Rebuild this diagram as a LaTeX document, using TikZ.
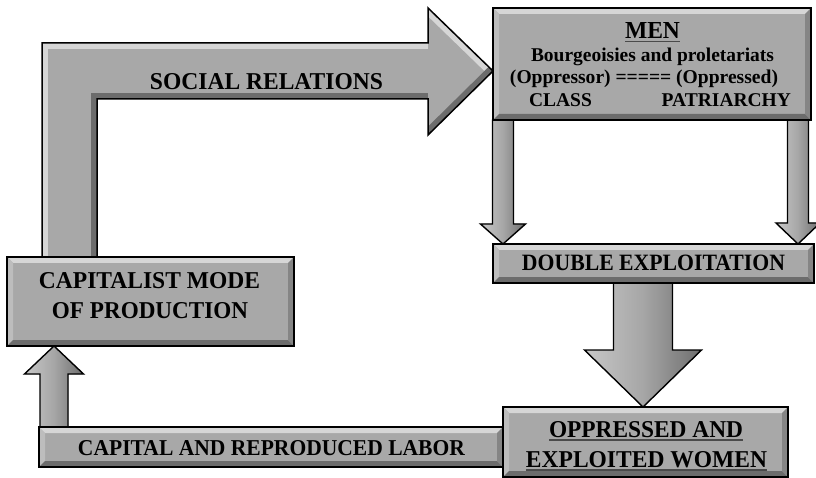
\documentclass[tikz,border=0pt]{standalone}
\usepackage{fontspec}
\setmainfont{Liberation Serif}
\usepackage{graphicx}
\usetikzlibrary{calc}
\pgfdeclarelayer{bg}
\pgfsetlayers{bg,main}
\definecolor{face}{HTML}{A8A8A8}
\definecolor{bvtop}{HTML}{D6D6D6}
\definecolor{bvleft}{HTML}{BDBDBD}
\definecolor{bvbot}{HTML}{6C6C6C}
\definecolor{bvright}{HTML}{858585}
\definecolor{arL}{HTML}{C8C8C8}
\definecolor{arM}{HTML}{A6A6A6}
\definecolor{arR}{HTML}{6E6E6E}
\definecolor{ulc}{HTML}{4A4A4A}
\newcommand{\myul}[1]{\setbox0=\hbox{#1}\leavevmode\rlap{\textcolor{ulc}{\rule[-3.5pt]{\wd0}{1.2pt}}}\box0}
\newcommand{\capsz}[3]{\resizebox{#1pt}{#2pt}{#3}}
\newcommand{\varrow}[5]{%
  \coordinate (vt) at (#1 -| #2);
  \filldraw[varr] ($(vt)+(-#3,0)$) -- ($(#2)+(-#3,{-1*(#5)})$) -- ($(#2)+(-#4,{-1*(#5)})$) -- (#2)
     -- ($(#2)+(#4,{-1*(#5)})$) -- ($(#2)+(#3,{-1*(#5)})$) -- ($(vt)+(#3,0)$) -- cycle;}
\tikzset{
  bbox/.style={rectangle, draw=black, line width=1.5pt, fill=face, inner sep=0pt, outer sep=0pt,
    path picture={
      \coordinate (pa) at (path picture bounding box.north west);
      \coordinate (pb) at (path picture bounding box.north east);
      \coordinate (pc) at (path picture bounding box.south east);
      \coordinate (pd) at (path picture bounding box.south west);
      \fill[bvtop] (pa) -- (pb) -- ([shift={(-6pt,-6pt)}]pb) -- ([shift={(6pt,-6pt)}]pa) -- cycle;
      \fill[bvleft] (pa) -- ([shift={(6pt,-6pt)}]pa) -- ([shift={(6pt,6pt)}]pd) -- (pd) -- cycle;
      \fill[bvbot] (pd) -- ([shift={(6pt,6pt)}]pd) -- ([shift={(-6pt,6pt)}]pc) -- (pc) -- cycle;
      \fill[bvright] (pb) -- (pc) -- ([shift={(-6pt,6pt)}]pc) -- ([shift={(-6pt,-6pt)}]pb) -- cycle;
    }},
  varr/.style={draw=black, line width=1.4pt, line join=miter, left color=arL, right color=arR, middle color=arM},
  lbl/.style={inner sep=0pt, outer sep=0pt, anchor=base, font=\bfseries},
  band/.style={line width=12pt, line join=miter}
}
\begin{document}
\begin{tikzpicture}[x=1pt,y=-1pt]
\useasboundingbox (0,0) rectangle (816,478);
\begin{pgfonlayer}{bg}
  \fill[white] (0,0) rectangle (816,478);
\end{pgfonlayer}

% boxes
\node[bbox, minimum width=287pt, minimum height=89pt] (cap) at (150.5,301.5) {};
\node[bbox, minimum width=318pt, minimum height=112pt] (men) at (652,64) {};
\node[bbox, minimum width=321pt, minimum height=39pt] (dbl) at (653.5,263.5) {};
\node[bbox, minimum width=464pt, minimum height=40pt] (bar) at (271,447) {};
\node[bbox, minimum width=285pt, minimum height=70pt] (opp) at (645.5,442) {};

% arrow coordinates
\coordinate (b1) at ([xshift=35pt]cap.north west);
\coordinate (btip) at ([yshift=-7pt]men.west);
\coordinate (b2) at ($(b1 |- btip)+(0,-28)$);
\coordinate (b3) at ($(btip)+(-65,-28)$);
\coordinate (b4) at ($(btip)+(-65,-63)$);
\coordinate (b6) at ($(btip)+(-65,64)$);
\coordinate (b7) at ($(btip)+(-65,28)$);
\coordinate (b8) at ($(b1 |- btip)+(55,28)$);
\coordinate (b9) at ($(b1)+(55,0)$);
\coordinate (tipL) at ([xshift=10pt]dbl.north west);
\coordinate (tipR) at ([xshift=-16pt]dbl.north east);
\coordinate (tipB) at ([xshift=-2.5pt]opp.north);
\coordinate (tipU) at ([xshift=47pt]cap.south west);

\begin{pgfonlayer}{bg}
  % bent arrow: social relations
  \fill[face] (b1) -- (b2) -- (b3) -- (b4) -- (btip) -- (b6) -- (b7) -- (b8) -- (b9) -- cycle;
  \begin{scope}
    \clip (b1) -- (b2) -- (b3) -- (b4) -- (btip) -- (b6) -- (b7) -- (b8) -- (b9) -- cycle;
    \draw[bvtop, band] (b1) -- (b2) -- (b3);
    \draw[bvtop, band] (b4) -- (btip);
    \draw[bvbot, band] (btip) -- (b6);
    \draw[bvbot, band] (b7) -- (b8) -- (b9);
  \end{scope}
  \draw[black, line width=1.5pt, line join=miter] (b1) -- (b2) -- (b3) -- (b4) -- (btip) -- (b6) -- (b7) -- (b8) -- (b9) -- cycle;
  % vertical arrows
  \varrow{men.south}{tipL}{10.5}{22.5}{20}
  \varrow{men.south}{tipR}{10.5}{22}{21}
  \varrow{dbl.south}{tipB}{29.5}{58.5}{57}
  \varrow{bar.north}{tipU}{14}{29.5}{-28}
\end{pgfonlayer}

% labels
\node[lbl] (tsoc) at (266.5,90) {\capsz{233}{16}{SOCIAL RELATIONS}};
\node[lbl] (tcap1) at (149.5,289) {\capsz{221}{16}{CAPITALIST MODE}};
\node[lbl] (tcap2) at (150,319) {\capsz{196}{16}{OF PRODUCTION}};
\node[lbl] (tdbl) at (653.5,271) {\capsz{263}{15.5}{DOUBLE EXPLOITATION}};
\node[lbl] (tbar) at (271.5,455) {\capsz{387}{15}{CAPITAL AND REPRODUCED LABOR}};
\node[lbl] (topp1) at (646,437) {\myul{\capsz{194}{16}{OPPRESSED AND}}};
\node[lbl] (topp2) at (646.5,467) {\myul{\capsz{241}{16}{EXPLOITED WOMEN}}};
\node[lbl] (tmen) at (652.5,39) {\myul{\capsz{55}{16}{MEN}}};
\node[lbl] (tbp) at (652.5,62) {\resizebox{243pt}{!}{Bourgeoisies and proletariats}};
\node[lbl] (top) at (644,84) {\resizebox{268pt}{!}{(Oppressor) ===== (Oppressed)}};
\node[lbl] (tcl) at (660,107) {\fontsize{19.5}{20}\selectfont\makebox[262pt]{CLASS\hfill PATRIARCHY}};
\end{tikzpicture}
\end{document}
